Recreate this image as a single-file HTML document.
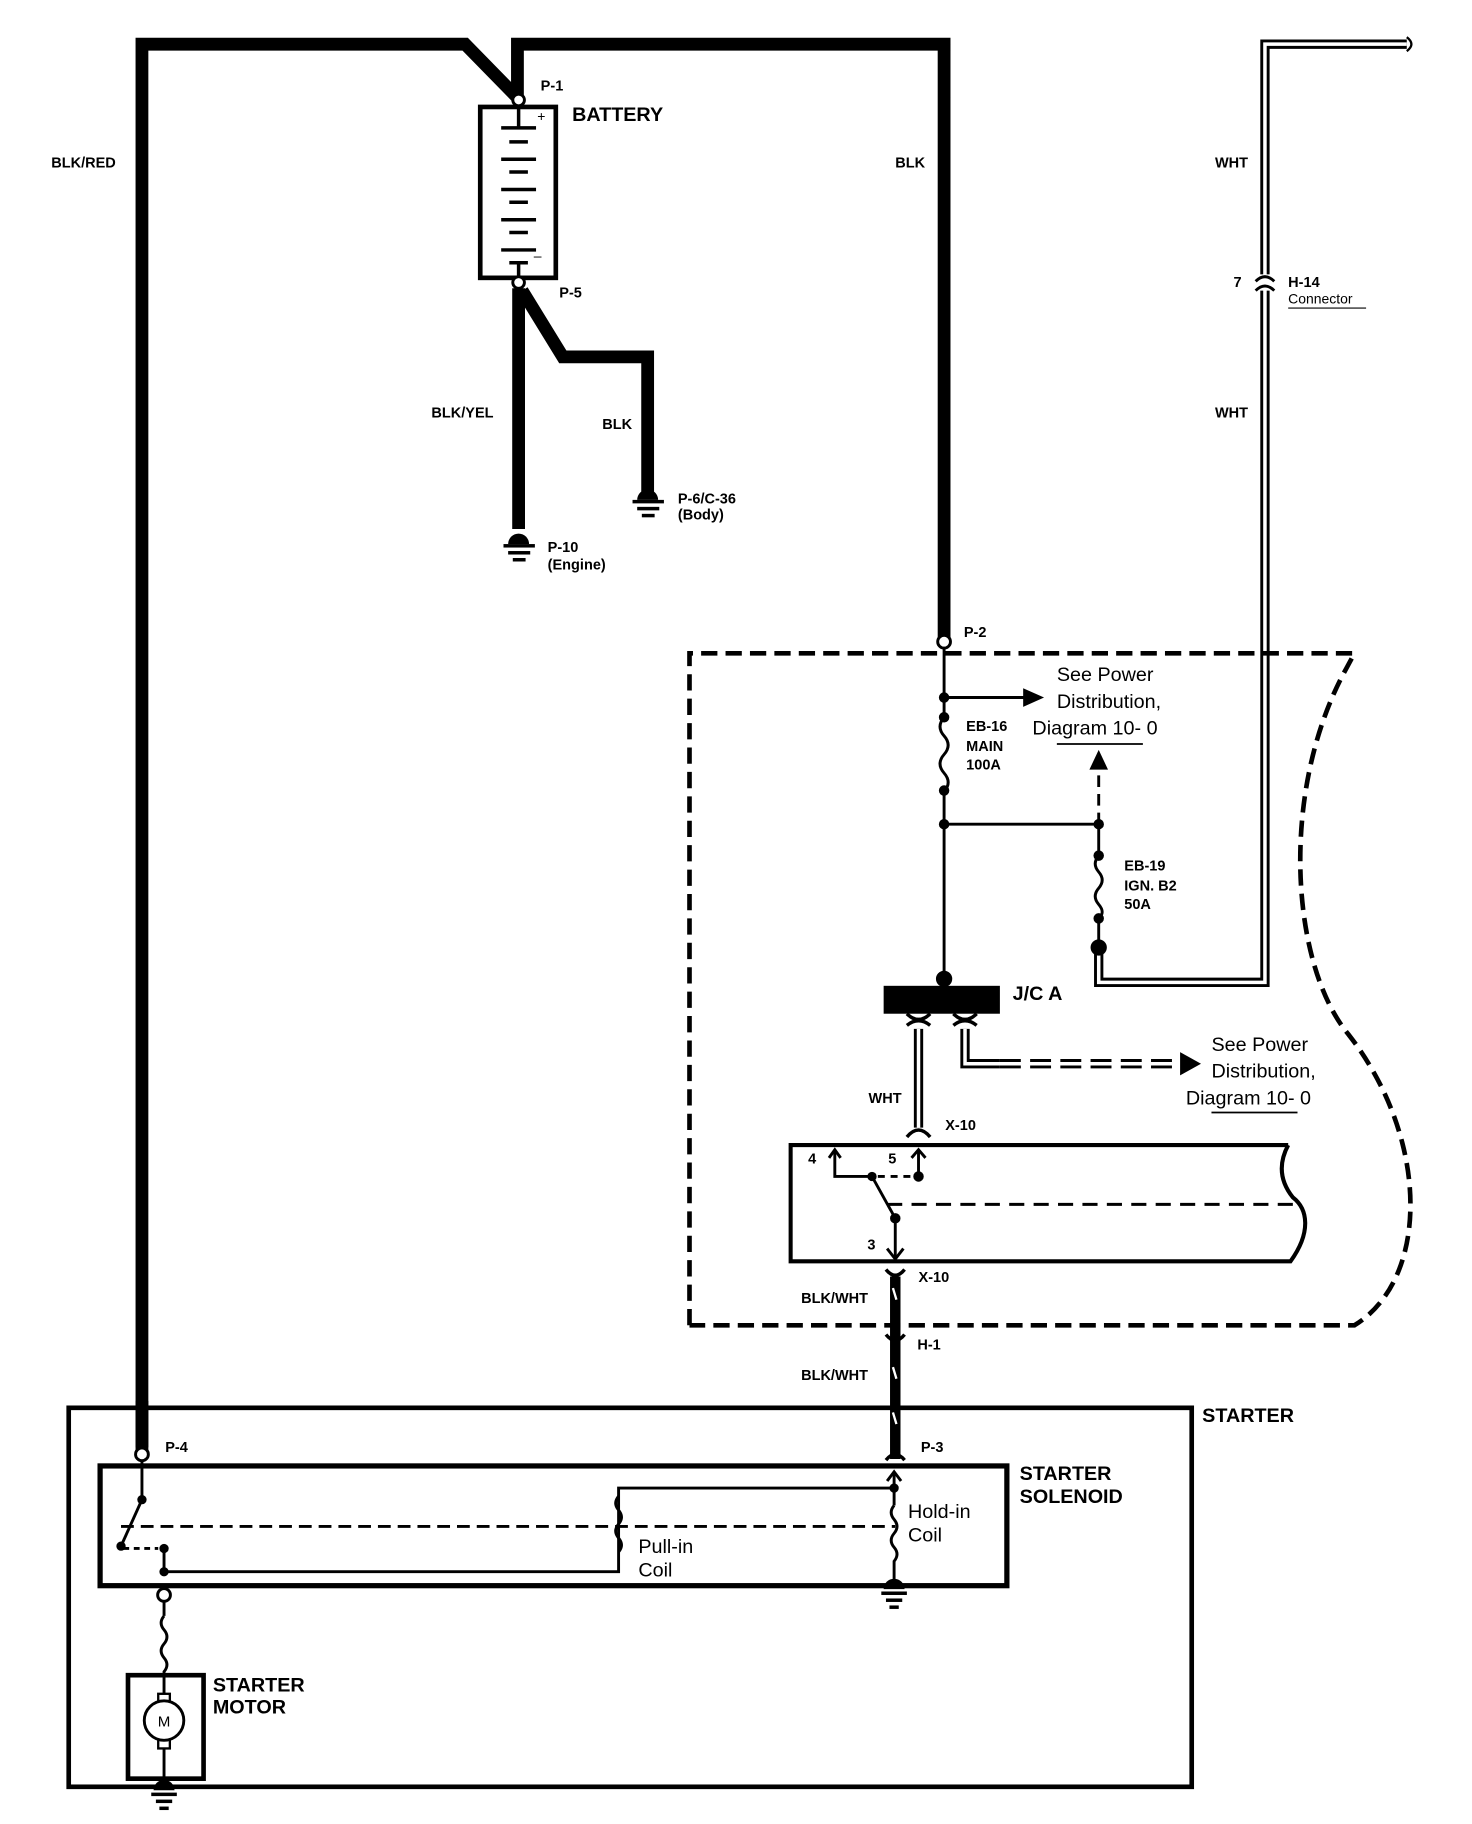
<!DOCTYPE html>
<html><head><style>html,body{margin:0;padding:0;background:#fff}svg{display:block}
.b{font-family:"Liberation Sans",sans-serif;font-weight:bold;font-size:12.5px}
.B{font-family:"Liberation Sans",sans-serif;font-weight:bold;font-size:17px}
.r{font-family:"Liberation Sans",sans-serif;font-size:17px}
</style></head><body>
<svg width="1472" height="1824" viewBox="0 0 1266 1569" xmlns="http://www.w3.org/2000/svg">
<rect width="1266" height="1569" fill="#fff"/>
<g fill="none" stroke="#000">
<!-- thick wires -->
<path d="M122 1248 V38 H400 L445 84" stroke-width="11" stroke-linejoin="miter"/>
<path d="M445 84 V38 H812 V548" stroke-width="11"/>
<rect x="413" y="92" width="65" height="147" stroke-width="4"/>
<path d="M446 248 V455" stroke-width="11"/>
<path d="M449 250 L484 307 H557 V425" stroke-width="11"/>
</g>
<!-- battery cells -->
<g stroke="#000" stroke-width="3">
<line x1="446" y1="92" x2="446" y2="110"/>
<line x1="431" y1="110" x2="461" y2="110"/><line x1="438" y1="122" x2="454" y2="122"/>
<line x1="431" y1="137" x2="461" y2="137"/><line x1="438" y1="148" x2="454" y2="148"/>
<line x1="431" y1="163" x2="461" y2="163"/><line x1="438" y1="174" x2="454" y2="174"/>
<line x1="431" y1="189" x2="461" y2="189"/><line x1="438" y1="200" x2="454" y2="200"/>
<line x1="431" y1="215" x2="461" y2="215"/>
<line x1="438" y1="226" x2="454" y2="226"/><line x1="446" y1="226" x2="446" y2="239"/>
</g>
<text x="462" y="104" style="font:12px 'Liberation Sans',sans-serif">+</text>
<text x="459" y="224" style="font:12px 'Liberation Sans',sans-serif">–</text>
<circle cx="446" cy="86" r="5" fill="#fff" stroke="#000" stroke-width="2.5"/>
<circle cx="446" cy="243" r="5" fill="#fff" stroke="#000" stroke-width="2.5"/>
<!-- grounds -->
<g fill="#000">
<path d="M437 468 a9 9 0 0 1 18 0 Z"/><rect x="433" y="468" width="27" height="3"/><rect x="437" y="474" width="19" height="3"/><rect x="441" y="480" width="11" height="3"/>
<path d="M548 430 a9 9 0 0 1 18 0 Z"/><rect x="544" y="430" width="27" height="3"/><rect x="548" y="436" width="19" height="3"/><rect x="552" y="442" width="11" height="3"/>
</g>
<!-- labels top -->
<text class="B" x="492" y="104">BATTERY</text>
<text class="b" x="465" y="78">P-1</text>
<text class="b" x="481" y="256">P-5</text>
<text class="b" x="44" y="144">BLK/RED</text>
<text class="b" x="770" y="144">BLK</text>
<text class="b" x="371" y="359">BLK/YEL</text>
<text class="b" x="518" y="369">BLK</text>
<text class="b" x="583" y="433">P-6/C-36</text><text class="b" x="583" y="447">(Body)</text>
<text class="b" x="471" y="475">P-10</text><text class="b" x="471" y="490">(Engine)</text>
<!-- WHT double wire -->
<path d="M1210 38 H1088 V845 H945 V815" fill="none" stroke="#000" stroke-width="8"/>
<path d="M1210 38 H1088 V845 H945 V815" fill="none" stroke="#fff" stroke-width="3"/>
<path d="M1210 32 q8 6 0 12" fill="none" stroke="#000" stroke-width="2"/>
<rect x="1082" y="236" width="12" height="14" fill="#fff"/>
<path d="M1080 242 q8 -8 16 0 M1080 250 q8 -8 16 0" fill="none" stroke="#000" stroke-width="2.5"/>
<text class="b" x="1045" y="144">WHT</text>
<text class="b" x="1045" y="359">WHT</text>
<text class="b" x="1061" y="247">7</text>
<text class="b" x="1108" y="247">H-14</text>
<text x="1108" y="261" style="font:12px 'Liberation Sans',sans-serif">Connector</text>
<line x1="1108" y1="265" x2="1175" y2="265" stroke="#000" stroke-width="1"/>
<!-- dashed boundary -->
<path d="M593 1140 V562 H1165 L1158 575 C1100 680 1110 830 1160 890 C1230 980 1230 1100 1165 1140 H593" fill="none" stroke="#000" stroke-width="4" stroke-dasharray="14 7"/>
<!-- P-2 and thin wiring -->
<g stroke="#000" stroke-width="2.5" fill="none">
<line x1="812" y1="556" x2="812" y2="617"/>
<path d="M812 617 q-7 8 0 16 q7 8 0 16 q-7 8 0 16 q7 8 0 16"/>
<line x1="812" y1="681" x2="812" y2="845"/>
<line x1="812" y1="600" x2="885" y2="600"/>
<line x1="812" y1="709" x2="945" y2="709"/>
<line x1="945" y1="709" x2="945" y2="660" stroke-dasharray="10 6"/>
<line x1="945" y1="709" x2="945" y2="736"/>
<path d="M945 736 q-6 7 0 14 q6 7 0 14 q-6 7 0 14 q6 7 0 12"/>
<line x1="945" y1="790" x2="945" y2="815"/>
</g>
<polygon points="880,592 898,600 880,608" fill="#000"/>
<polygon points="937,662 945,645 953,662" fill="#000"/>
<g fill="#000">
<circle cx="812" cy="600" r="4.5"/><circle cx="812" cy="617" r="4.5"/><circle cx="812" cy="680" r="4.5"/><circle cx="812" cy="709" r="4.5"/>
<circle cx="945" cy="709" r="4.5"/><circle cx="945" cy="736" r="4.5"/><circle cx="945" cy="790" r="4.5"/><circle cx="945" cy="815" r="7"/>
<circle cx="812" cy="842" r="7"/>
</g>
<circle cx="812" cy="552" r="5.5" fill="#fff" stroke="#000" stroke-width="2.5"/>
<text class="b" x="829" y="548">P-2</text>
<text class="b" x="831" y="629">EB-16</text><text class="b" x="831" y="646">MAIN</text><text class="b" x="831" y="662">100A</text>
<text class="b" x="967" y="749">EB-19</text><text class="b" x="967" y="766">IGN. B2</text><text class="b" x="967" y="782">50A</text>
<text class="r" x="909" y="586">See Power</text><text class="r" x="909" y="609">Distribution,</text><text class="r" x="888" y="632">Diagram 10- 0</text>
<line x1="909" y1="640" x2="983" y2="640" stroke="#000" stroke-width="1.5"/>
<!-- J/C A -->
<rect x="760" y="848" width="100" height="24" fill="#000"/>
<text class="B" x="871" y="860">J/C A</text>
<g fill="none" stroke="#000">
<path d="M790 885 V970" stroke-width="8"/><path d="M790 885 V970" stroke="#fff" stroke-width="3"/>
<path d="M830 885 V915 H860" stroke-width="8"/><path d="M830 885 V915 H860" stroke="#fff" stroke-width="3"/>
<path d="M860 915 H1015" stroke-width="8" stroke-dasharray="18 8"/><path d="M855 915 H1020" stroke="#fff" stroke-width="3"/>
<path d="M780 872 q10 10 20 0 M780 882 q10 -8 20 0 M820 872 q10 10 20 0 M820 882 q10 -8 20 0" stroke-width="3"/>
<path d="M780 978 q10 -12 20 0" stroke-width="3"/>
</g>
<polygon points="1015,905 1033,915 1015,925" fill="#000"/>
<text class="r" x="1042" y="904">See Power</text><text class="r" x="1042" y="927">Distribution,</text><text class="r" x="1020" y="950">Diagram 10- 0</text>
<line x1="1042" y1="957" x2="1116" y2="957" stroke="#000" stroke-width="1.5"/>
<text class="b" x="747" y="949">WHT</text>
<text class="b" x="813" y="972">X-10</text>
<!-- switch box -->
<path d="M1108 985 H680 V1085 H1110 C1128 1060 1125 1040 1112 1030 C1100 1015 1100 1000 1108 985" fill="none" stroke="#000" stroke-width="3.5"/>
<g stroke="#000" stroke-width="2.5" fill="none">
<path d="M718 990 V1012 H750"/><path d="M713 996 L718 989 L723 996"/>
<path d="M790 990 V1012"/><path d="M784 996 L790 989 L796 996"/>
<line x1="755" y1="1012" x2="785" y2="1012" stroke-dasharray="6 5"/>
<line x1="750" y1="1012" x2="770" y2="1048"/>
<line x1="763" y1="1036" x2="1115" y2="1036" stroke-dasharray="13 8"/>
<path d="M770 1048 V1082"/><path d="M763 1074 L770 1083 L777 1074"/>
</g>
<circle cx="750" cy="1012" r="4" fill="#000"/><circle cx="790" cy="1012" r="4.5" fill="#000"/><circle cx="770" cy="1048" r="4.5" fill="#000"/>
<text class="b" x="695" y="1001">4</text><text class="b" x="764" y="1001">5</text><text class="b" x="746" y="1075">3</text>
<!-- BLK/WHT -->
<path d="M770 1098 V1255" stroke="#000" stroke-width="9"/>
<g stroke="#000" stroke-width="3" fill="none">
<path d="M762 1092 q8 10 16 0"/><path d="M762 1148 q8 10 16 0"/><path d="M762 1256 q8 -10 16 0"/>
</g>
<g stroke="#fff" stroke-width="2"><line x1="768" y1="1108" x2="771" y2="1118"/><line x1="768" y1="1176" x2="771" y2="1186"/><line x1="768" y1="1215" x2="771" y2="1225"/></g>
<text class="b" x="790" y="1103">X-10</text>
<text class="b" x="689" y="1121">BLK/WHT</text>
<text class="b" x="789" y="1161">H-1</text>
<text class="b" x="689" y="1187">BLK/WHT</text>
<!-- starter box -->
<rect x="59" y="1211" width="966" height="326" fill="none" stroke="#000" stroke-width="4"/>
<path d="M122 1205 V1245" stroke="#000" stroke-width="11"/>
<text class="B" x="1034" y="1223">STARTER</text>
<rect x="86" y="1261" width="780" height="103" fill="none" stroke="#000" stroke-width="4.5"/>
<text class="B" x="877" y="1273">STARTER</text><text class="B" x="877" y="1293">SOLENOID</text>
<circle cx="122" cy="1251" r="5.5" fill="#fff" stroke="#000" stroke-width="2.5"/>
<text class="b" x="142" y="1249">P-4</text><text class="b" x="792" y="1249">P-3</text>
<g stroke="#000" stroke-width="2.5" fill="none">
<line x1="122" y1="1257" x2="122" y2="1290"/>
<line x1="122" y1="1290" x2="104" y2="1330"/>
<line x1="106" y1="1332" x2="136" y2="1332" stroke-dasharray="5 4"/>
<line x1="104" y1="1313" x2="770" y2="1313" stroke-dasharray="11 6"/>
<path d="M141 1332 V1352 H532 V1280 H769"/>
<path d="M769 1268 V1295"/>
<path d="M763 1274 L769 1266 L775 1274"/>
<path d="M769 1295 q-5 6 0 12 q5 6 0 12 q-5 6 0 12 q5 6 0 12 V1360"/>
<path d="M532 1287 q-5 6 0 12 q5 6 0 12 q-5 6 0 12 q5 6 0 12"/>
<line x1="141" y1="1378" x2="141" y2="1390"/>
<path d="M141 1390 q-5 6 0 12 q5 6 0 12 q-5 6 0 12 q5 6 0 12 V1530"/>
</g>
<g fill="#000">
<circle cx="122" cy="1290" r="4"/><circle cx="104" cy="1330" r="4"/><circle cx="141" cy="1332" r="4"/><circle cx="141" cy="1352" r="4"/><circle cx="769" cy="1280" r="4"/>
<path d="M760 1367 a9 9 0 0 1 18 0 Z"/><rect x="758" y="1369" width="22" height="3"/><rect x="762" y="1375" width="14" height="3"/><rect x="765" y="1381" width="8" height="3"/>
<path d="M132 1540 a9 9 0 0 1 18 0 Z"/><rect x="130" y="1542" width="22" height="3"/><rect x="134" y="1548" width="14" height="3"/><rect x="137" y="1554" width="8" height="3"/>
</g>
<circle cx="141" cy="1372" r="5.5" fill="#fff" stroke="#000" stroke-width="2.5"/>
<text class="r" x="549" y="1336">Pull-in</text><text class="r" x="549" y="1356">Coil</text>
<text class="r" x="781" y="1306">Hold-in</text><text class="r" x="781" y="1326">Coil</text>
<!-- motor -->
<rect x="110" y="1441" width="65" height="89" fill="none" stroke="#000" stroke-width="4"/>
<rect x="136" y="1457" width="10" height="8" fill="#fff" stroke="#000" stroke-width="2"/>
<rect x="136" y="1496" width="10" height="8" fill="#fff" stroke="#000" stroke-width="2"/>
<ellipse cx="141" cy="1480" rx="17" ry="17" fill="#fff" stroke="#000" stroke-width="2.5"/>
<text x="141" y="1485" text-anchor="middle" style="font:13px 'Liberation Sans',sans-serif">M</text>
<text class="B" x="183" y="1455">STARTER</text><text class="B" x="183" y="1474">MOTOR</text>
</svg>
</body></html>
